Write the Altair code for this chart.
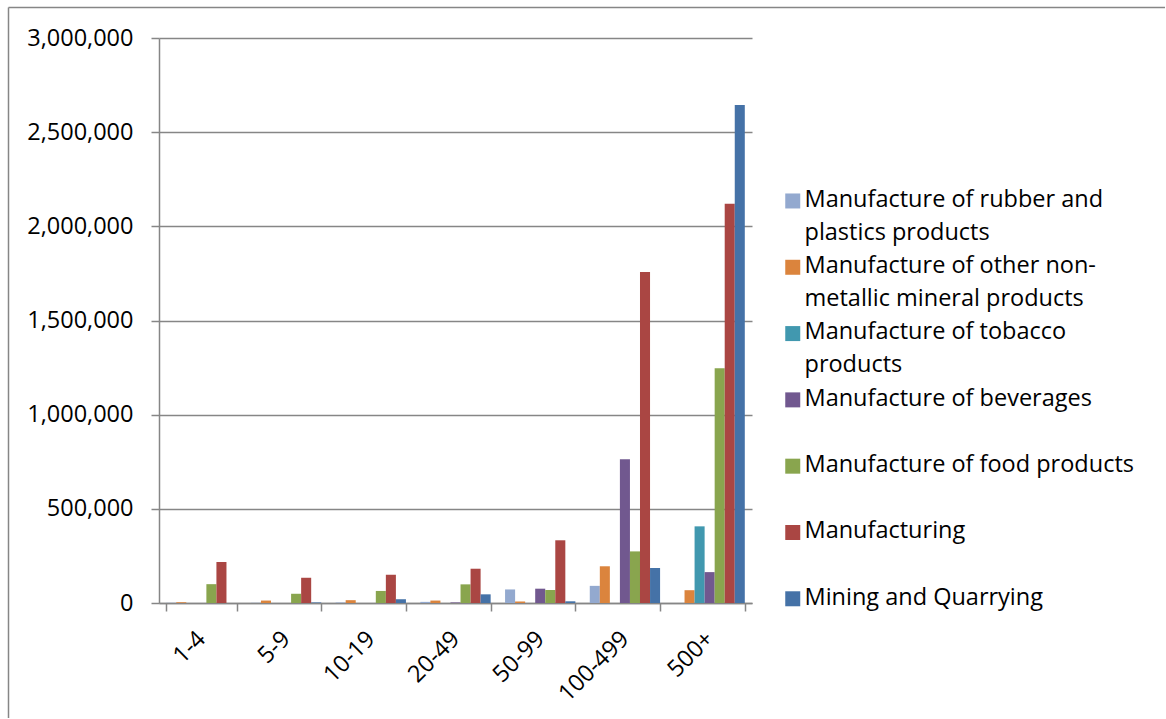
import json

import altair as alt
import pandas as pd

# Firm size bands (number of persons employed)
size_bands = ["1-4", "5-9", "10-19", "20-49", "50-99", "100-499", "500+"]

series_names = [
    "Manufacture of rubber and plastics products",
    "Manufacture of other non-metallic mineral products",
    "Manufacture of tobacco products",
    "Manufacture of beverages",
    "Manufacture of food products",
    "Manufacturing",
    "Mining and Quarrying",
]

# Legend text wrapped onto two lines per entry
legend_lines = [
    ["Manufacture of rubber and", "plastics products"],
    ["Manufacture of other non-", "metallic mineral products"],
    ["Manufacture of tobacco", "products"],
    ["Manufacture of beverages", ""],
    ["Manufacture of food products", ""],
    ["Manufacturing", ""],
    ["Mining and Quarrying", ""],
]

series_colors = ["#93A9CF", "#DB843D", "#4198AF", "#71588F", "#89A54E", "#AA4643", "#4572A7"]

# Values per size band, one list per series
rubber_plastics = [1000, 1000, 2500, 6000, 72000, 91000, 0]
non_metallic = [4000, 13000, 15000, 13000, 8000, 195000, 68000]
tobacco = [0, 0, 0, 0, 0, 0, 407000]
beverages = [0, 0, 0, 3000, 76000, 763000, 164000]
food = [100000, 49000, 64000, 99000, 69000, 274000, 1246000]
manufacturing = [218000, 134000, 150000, 182000, 333000, 1757000, 2120000]
mining = [0, 3000, 20000, 46000, 9000, 186000, 2644000]

y_ticks = [0, 500000, 1000000, 1500000, 2000000, 2500000, 3000000]

series_values = [rubber_plastics, non_metallic, tobacco, beverages, food, manufacturing, mining]
rows = []
for name, values in zip(series_names, series_values):
    for band, v in zip(size_bands, values):
        rows.append({"band": band, "series": name, "value": v})
df = pd.DataFrame(rows)

label_expr = "".join(
    f"datum.label === {json.dumps(name)} ? {json.dumps(lines)} : "
    for name, lines in zip(series_names, legend_lines)
) + "datum.label"

GRAY = "#868686"
LINE_W = 1.5
FONT = "Open Sans"

bars = alt.Chart(df).mark_bar().encode(
    x=alt.X(
        "band:N",
        sort=size_bands,
        scale=alt.Scale(paddingInner=0.17, paddingOuter=0.085),
        axis=alt.Axis(
            title=None,
            grid=False,
            tickBand="extent",
            labelAngle=-45,
            labelAlign="right",
            labelBaseline="middle",
            labelPadding=24,
        ),
    ),
    xOffset=alt.XOffset(
        "series:N", sort=series_names, scale=alt.Scale(paddingInner=0, paddingOuter=0)
    ),
    y=alt.Y(
        "value:Q",
        scale=alt.Scale(domain=[0, 3000000], nice=False),
        axis=alt.Axis(title=None, values=y_ticks, format=",.0f", labelPadding=18, grid=True),
    ),
    color=alt.Color(
        "series:N",
        sort=series_names,
        scale=alt.Scale(domain=series_names, range=series_colors),
        legend=alt.Legend(
            title=None,
            orient="none",
            legendX=622,
            legendY=157,
            padding=0,
            symbolType="M-1,-1.77H1V0.23H-1Z",
            symbolSize=225,
            symbolStrokeWidth=0,
            labelExpr=label_expr,
            labelFont=FONT,
            labelFontSize=23.5,
            labelBaseline="alphabetic",
            labelColor="#000000",
            labelLimit=500,
            labelOffset=0,
            rowPadding=8.3,
        ),
    ),
)

# Outer chart frame (left and top edges)
frame_left = alt.Chart(alt.Data(values=[{}])).mark_rule(color=GRAY, strokeWidth=LINE_W).encode(
    x=alt.value(-150.5), y=alt.value(-30.5), y2=alt.value(680)
)
frame_top = alt.Chart(alt.Data(values=[{}])).mark_rule(color=GRAY, strokeWidth=LINE_W).encode(
    x=alt.value(-150.5), x2=alt.value(1006), y=alt.value(-30.5)
)

chart = (
    alt.layer(bars, frame_left, frame_top)
    .properties(
        width=593,
        height=565,
        padding={"left": 7, "top": 6, "right": 0, "bottom": 0},
        background="white",
    )
    .configure(style={"guide-label": {"lineHeight": 33}})
    .configure_view(stroke=None)
    .configure_axis(
        labelFont=FONT,
        labelFontSize=23.5,
        labelColor="#000000",
        domainColor=GRAY,
        tickColor=GRAY,
        gridColor=GRAY,
        domainWidth=LINE_W,
        tickWidth=LINE_W,
        gridWidth=LINE_W,
        tickSize=8,
    )
)

chart.save("out.html", embed_options={"renderer": "svg", "actions": False})
